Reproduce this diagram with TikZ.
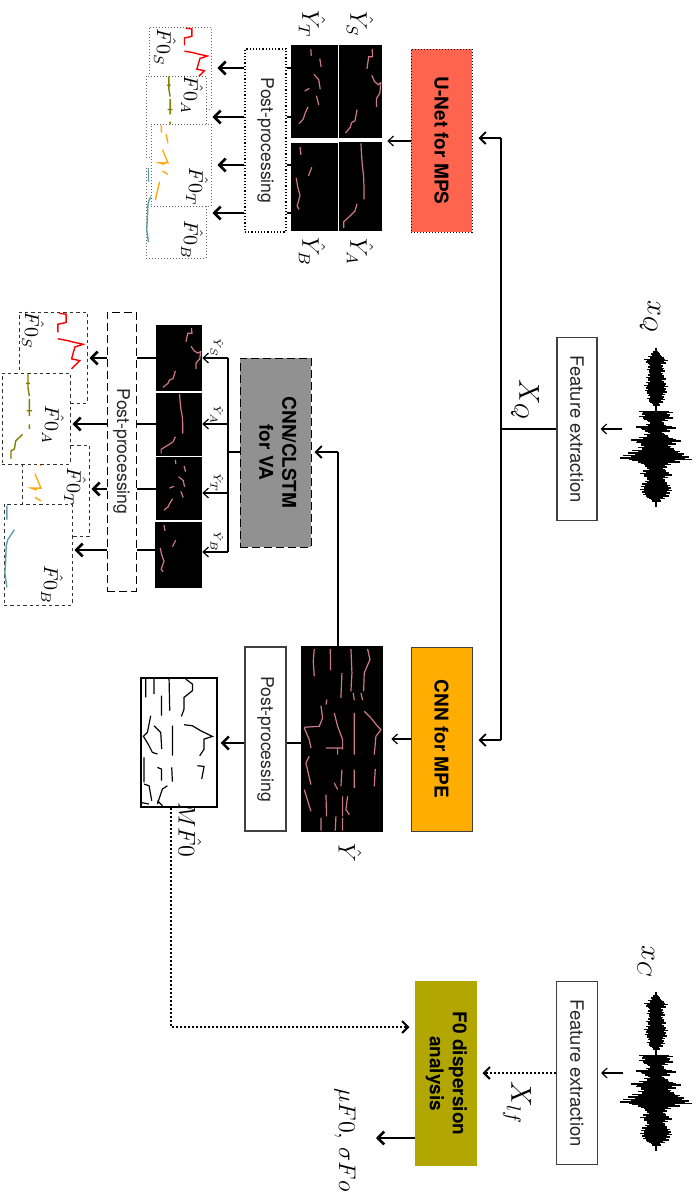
\documentclass[tikz,border=0pt]{standalone}
\usepackage{amsmath}
\usepackage{fontspec}
\setmainfont{TeX Gyre Heros}
\usetikzlibrary{arrows.meta,positioning,calc}
\definecolor{cUnet}{RGB}{255,100,78}
\definecolor{cMpe} {RGB}{255,173,0}
\definecolor{cVoic}{RGB}{145,145,145}
\definecolor{cDisp}{RGB}{178,167,0}
\definecolor{cPink}{RGB}{205,120,140}
\definecolor{cBass}{RGB}{95,160,165}
\definecolor{cAlto}{RGB}{128,128,0}
\definecolor{cTeno}{RGB}{255,170,20}
\tikzset{
  box/.style 2 args={draw,inner sep=0pt,minimum width=#1*0.5pt,minimum height=#2*0.5pt,align=center},
  proc/.style 2 args={box={#1}{#2},draw=black!75,line width=.6pt,text=black!85,font=\fontsize{8.8}{11}\selectfont},
  net/.style 2 args={box={#1}{#2},line width=.5pt,font=\fontsize{9.5}{11.5}\selectfont\bfseries},
  roll/.style 2 args={box={#1}{#2},fill=black,draw=none},
  fplot/.style 2 args={box={#1}{#2},fill=white,draw=black!60,line width=.5pt,densely dotted},
  vplot/.style 2 args={box={#1}{#2},fill=white,draw=black!80,line width=.5pt,dash pattern=on 1.7pt off 1.5pt},
  vdash/.style={dash pattern=on 4pt off 2pt,line width=.5pt},
  thin arr/.style={-{Straight Barb[length=2.6pt,width=5pt]},line width=.6pt},
  thick arr/.style={-{Straight Barb[length=3.2pt,width=6.5pt]},line width=1.3pt},
  bus arr/.style={-{Straight Barb[length=3pt,width=6pt]},line width=.9pt},
  stub/.style={line width=1.3pt},
  dot arr/.style={-{Straight Barb[length=3pt,width=6pt]},line width=1pt,dash pattern=on 1pt off 1pt},
  lab/.style={rotate=-90,inner sep=0pt},
  pitch/.style={line width=.6pt},
  curve/.style={line width=.7pt},
}
\newcommand{\rot}[1]{\rotatebox{-90}{#1}}
% pitch tracks, unit 0..100 inside the image
\newcommand{\trkS}{(78,5)--(79,13)--(70,13)--(66,26) (77,33)--(84,40)--(92,43)--(98,41)--(96,52)--(88,58)--(88,67) (43,70)--(38,82)--(30,84)--(27,89)--(16,95)}
\newcommand{\trkA}{(52,2)--(53,12)--(55,26)--(58,38)--(59,50)--(59,65) (43,70)--(38,78)--(30,82)--(12,90)--(12,97)}
\newcommand{\trkT}{(43,5)--(44,12) (62,15)--(65,24) (50,32)--(60,38)--(63,48) (40,47)--(30,50) (55,55)--(60,65) (37,67)--(30,75)--(27,80)--(18,85)}
\newcommand{\trkB}{(20,5)--(22,14) (45,28)--(38,38) (12,40)--(15,50)--(20,60)--(14,72)--(18,76)}
\newcommand{\curS}{(60,2)--(70,3)--(70,12)--(58,14)--(58,23) (58,30)--(72,32)--(83,34)--(95,36)--(83,39)--(78,52)--(90,54)--(78,63)}
\newcommand{\curA}{(39,1)--(39,17) (36,12)--(42,12) (39,17)--(41,26) (41,29)--(41,48) (37,42)--(45,42) (41,57)--(41,62) (31,68)--(21,75)--(19,84)--(14,86)--(14,95)}
\newcommand{\curT}{(18,2)--(18,11) (26,13)--(29,24) (20,32)--(29,48)--(15,48)--(23,50) (20,58)--(29,62) (15,71)--(12,81)--(8,93)}
\newcommand{\curB}{(5,2)--(5,16) (16,26)--(6,36)--(4,42)--(3,59)--(2,69)--(5,83)}
% node, width, height, colour, track
\newcommand{\track}[5]{\draw[#4,shift={(#1.north west)},xscale=#2/100,yscale=#3/100] #5;}
% waveform around a centre point
\newcommand{\waveform}[1]{
  \begin{scope}[shift={(#1)}]
    \foreach \hw [count=\n] in {1,3,5,8,12,10,7,8,9,7,8,10,8,10,12,10,11,9,8,9,7,4,1,1,17,14,17,12,8,10,20,14,8,12,17,25,20,15,18,24,28,33,36,24,15,11,9,13,16,12,9,11,14,15,16,14,13,9,5,1,1}{
      \fill (-\hw,\n*2.6-1.5) rectangle (\hw*.8,\n*2.6-.1);
      \fill (-\hw*.75,\n*2.6-.2) rectangle (\hw,\n*2.6+1.3);
    }
  \end{scope}}
\begin{document}
\begin{tikzpicture}[x=0.5pt,y=-0.5pt]
  \useasboundingbox (0,0) rectangle (699,1200);
  % inputs
  \waveform{655.7,347}
  \waveform{655.7,991}
  \node[lab,font=\fontsize{14}{16}\selectfont] (xQ) at (650,317) {$x_Q$};
  \node[lab,font=\fontsize{14}{16}\selectfont] (xC) at (646,962) {$x_C$};
  \node[proc={40}{183},font=\fontsize{9.2}{11}\selectfont] (featQ) at (577,429) {\rot{Feature extraction}};
  \node[proc={41}{183},font=\fontsize{9.2}{11}\selectfont] (featC) at (577,1073) {\rot{Feature extraction}};
  \coordinate (inQ) at (622,429);
  \coordinate (inC) at (623,1073);
  \draw[thin arr,shorten >=1.5pt] (inQ) -- (featQ.east);
  \draw[thin arr,shorten >=1.5pt] (inC) -- (featC.east |- inC);
  \node[lab,font=\fontsize{14}{16}\selectfont] (XQ) at (525,400) {$X_Q$};
  \node[lab,font=\fontsize{14}{16}\selectfont] (Xlf) at (517,1103) {$X_{lf}$};
  % main bus
  \coordinate (bus) at (501,429);
  \coordinate (busT) at (501,138);
  \coordinate (busB) at (501,740);
  \draw[line width=1pt] (featQ.west) -- (bus);
  % networks
  \node[net={61}{183},fill=cUnet,densely dotted] (unet) at (441.5,140.5) {\rot{U-Net for MPS}};
  \node[net={61}{184},fill=cMpe,draw=black!75] (mpe) at (441.5,739) {\rot{CNN for MPE}};
  \node[net={71}{189},fill=cVoic,vdash] (va) at (275.5,452.5) {\rot{\begin{tabular}{@{}c@{}}CNN/CLSTM\\for VA\end{tabular}}};
  \node[net={62}{185},fill=cDisp,draw=none] (disp) at (446,1073.5) {\rot{\begin{tabular}{@{}c@{}}F0 dispersion\\analysis\end{tabular}}};
  \draw[bus arr,shorten >=3pt] (busT) -- (unet.east |- busT);
  \draw[bus arr,shorten >=3pt] (busB) -- (mpe.east |- busB);
  \draw[line width=1pt] (busT) -- (busB);
  \draw[dot arr,shorten >=2.5pt] (featC.west) -- (disp.east |- featC.west);
  % MPS branch
  \node[roll={43}{93}] (yS) at (360.5,91.5) {};
  \node[roll={47}{93}] (yT) at (314.5,91.5) {};
  \node[roll={47}{88}] (yB) at (314.5,187) {};
  \node[roll={43}{89}] (yA) at (360.5,186.5) {};
  \track{yS}{43}{93}{cPink,pitch}{\trkS}
  \track{yT}{47}{93}{cPink,pitch}{\trkT}
  \track{yB}{47}{88}{cPink,pitch}{\trkB}
  \track{yA}{43}{89}{cPink,pitch}{\trkA}
  \draw[thin arr,shorten >=2.5pt] (unet.west |- 0,141) -- (yS.east |- 0,141);
  \node[proc={41}{183},fill=white,draw=black,densely dotted] (postU) at (265.5,140.5) {\rot{Post-processing}};
  \node[fplot={62}{82}] (fS) at (180,68) {};
  \track{fS}{62}{82}{red,curve}{\curS}
  \node[fplot={60}{81}] (fA) at (176,116.5) {};
  \track{fA}{60}{81}{cAlto,curve}{\curA}
  \node[fplot={60}{90}] (fB) at (176,213) {};
  \track{fB}{60}{90}{cBass,curve}{\curB}
  \node[fplot={60}{82}] (fT) at (181,165) {};
  \track{fT}{60}{82}{cTeno,curve}{\curT}
  \foreach \yy/\tgt in {68/fS,117/fA,165/fT,213/fB}{
    \draw[stub] (postU.east |- 0,\yy) -- (yT.west |- 0,\yy);
    \draw[thick arr,shorten >=3pt] (postU.west |- 0,\yy) -- (\tgt.east |- 0,\yy);
  }
  \node[lab,font=\large] (lS) at (360,24) {$\hat{Y}_S$};
  \node[lab,font=\large] (lT) at (312,24) {$\hat{Y}_T$};
  \node[lab,font=\large] (lB) at (312,252) {$\hat{Y}_B$};
  \node[lab,font=\large] (lA) at (360,252) {$\hat{Y}_A$};
  \node[lab] (lfS) at (165,47) {$\hat{F0}_S$};
  \node[lab] (lfA) at (192,95) {$\hat{F0}_A$};
  \node[lab] (lfT) at (197,187) {$\hat{F0}_T$};
  \node[lab] (lfB) at (192,240) {$\hat{F0}_B$};
  % MPE branch
  \node[roll={82}{186}] (yM) at (342,739) {};
  \begin{scope}[shift={(yM.north west)},scale=1/3,cPink,line width=.6pt]
    \draw (201,10)--(208,42)--(191,82)--(189,137) (151,10)--(154,82)--(151,137) (89,10)--(90,74) (41,10)--(38,47)--(41,92);
    \draw (124,82)--(121,157) (158,142)--(161,164) (181,142)--(186,164) (79,162)--(76,177) (61,180)--(66,217)--(56,242)--(11,245);
    \draw (11,247)--(26,282)--(31,307) (101,202)--(111,242)--(126,282)--(126,312) (161,202)--(161,327);
    \draw (191,197)--(211,217)--(231,242)--(241,252)--(226,272)--(221,327) (76,307)--(126,307) (111,307)--(111,327);
    \draw (26,332)--(16,352)--(31,417) (124,372)--(121,422) (161,372)--(161,427) (224,370)--(221,422) (101,412)--(111,432);
    \draw (11,432)--(31,497) (76,447)--(78,512) (126,452)--(126,512) (141,452)--(136,492)--(146,507);
    \draw (61,517)--(61,555) (106,512)--(104,555) (126,517)--(126,555);
  \end{scope}
  \draw[thin arr,shorten >=4pt] (mpe.west) -- (yM.east |- mpe.west);
  \node[proc={41}{184}] (postM) at (265.5,739) {\rot{Post-processing}};
  \node[box={76}{129},draw=black,line width=.6pt] (fM) at (179,742.5) {};
  \begin{scope}[shift={(fM.north west)},scale=1/3,line width=.6pt]
    \draw (136,5)--(156,20)--(156,40)--(131,60)--(131,95)--(123,117) (86,5)--(88,100) (41,5)--(41,50) (16,5)--(16,60);
    \draw (63,55)--(63,115) (1,70)--(1,110) (31,115)--(21,165)--(11,175) (8,175)--(26,205)--(36,225)--(51,230);
    \draw (41,145)--(61,165)--(64,215) (96,145)--(96,235) (131,142)--(156,145)--(181,160)--(216,177)--(191,185)--(191,215)--(178,235);
    \draw (11,240)--(11,315) (51,270)--(63,275)--(63,310) (94,270)--(96,313) (171,265)--(191,267)--(184,305);
    \draw (11,320)--(26,325)--(34,370) (81,325)--(66,335)--(51,380) (1,375)--(26,380) (51,370)--(66,385);
  \end{scope}
  \draw[stub] (postM.east |- 0,743) -- (yM.west |- 0,743);
  \draw[thick arr,shorten >=1.5pt] (postM.west |- 0,743) -- (fM.east |- 0,743);
  \node[lab,font=\large] (lM) at (350,853) {$\hat{Y}$};
  \node[lab,font=\large] (lMf) at (190,830) {$M\hat{F0}$};
  \coordinate (dotC) at (171,1027);
  \draw[dot arr,shorten >=2.5pt] (fM.south -| dotC) -- (dotC) -- (disp.west |- dotC);
  % VA branch
  \coordinate (feedVA) at (338,452);
  \draw[line width=1pt] (yM.north -| feedVA) -- (feedVA);
  \draw[bus arr,shorten >=1.5pt] (feedVA) -- (va.east |- feedVA);
  \node[roll={46}{66}] (vS) at (179,358) {};
  \node[roll={46}{63}] (vA) at (179,424.5) {};
  \node[roll={46}{63}] (vT) at (179,488.5) {};
  \node[roll={47}{66}] (vB) at (178.5,555) {};
  \track{vS}{46}{66}{cPink,pitch}{\trkS}
  \track{vA}{46}{63}{cPink,pitch}{\trkA}
  \track{vT}{46}{63}{cPink,pitch}{\trkT}
  \track{vB}{47}{66}{cPink,pitch}{\trkB}
  \coordinate (tapVA) at (228,452);
  \draw[line width=.8pt] (va.west |- tapVA) -- (tapVA) (tapVA |- 0,358) -- (tapVA |- 0,552);
  \foreach \yy/\tgt in {358/vS,424/vA,493/vT,552/vB}
    \draw[thin arr] (tapVA |- 0,\yy) -- (\tgt.east |- 0,\yy);
  \node[lab,font=\tiny] (lvS) at (217,348) {$\hat{Y}_S$};
  \node[lab,font=\tiny] (lvA) at (217,415) {$\hat{Y}_A$};
  \node[lab,font=\tiny] (lvT) at (217,483) {$\hat{Y}_T$};
  \node[lab,font=\tiny] (lvB) at (217,542) {$\hat{Y}_B$};
  \node[vplot={68}{91}] (gS) at (53,357.5) {};
  \track{gS}{68}{91}{red,curve}{\curS}
  \node[vplot={67}{91}] (gT) at (55.5,490.5) {};
  \track{gT}{67}{91}{cTeno,curve}{\curT}
  \node[vplot={68}{91}] (gA) at (36,418.5) {};
  \track{gA}{68}{91}{cAlto,curve}{\curA}
  \node[vplot={68}{101}] (gB) at (38,554.5) {};
  \track{gB}{68}{101}{cBass,curve}{\curB}
  \node[box={29}{279},fill=white,vdash,text=black!85,font=\fontsize{8.8}{11}\selectfont] (postV) at (121.5,451.5) {\rot{Post-processing}};
  \foreach \yy/\src/\tgt in {358/vS/gS,424/vA/gA,489/vT/gT,550/vB/gB}{
    \draw[stub] (postV.east |- 0,\yy) -- (\src.west |- 0,\yy);
    \draw[thick arr,shorten >=1pt] (postV.west |- 0,\yy) -- (\tgt.east |- 0,\yy);
  }
  \node[lab] (lgS) at (33,330) {$\hat{F0}_S$};
  \node[lab] (lgA) at (53,425) {$\hat{F0}_A$};
  \node[lab] (lgT) at (75,487) {$\hat{F0}_T$};
  \node[lab] (lgB) at (52,585) {$\hat{F0}_B$};
  % output
  \coordinate (outD) at (376,1138);
  \draw[thick arr] (disp.west |- outD) -- (outD);
  \node[lab,font=\fontsize{13}{15}\selectfont] (lOut) at (345,1140) {$\mu F0,\,\sigma Fo$};
\end{tikzpicture}
\end{document}
